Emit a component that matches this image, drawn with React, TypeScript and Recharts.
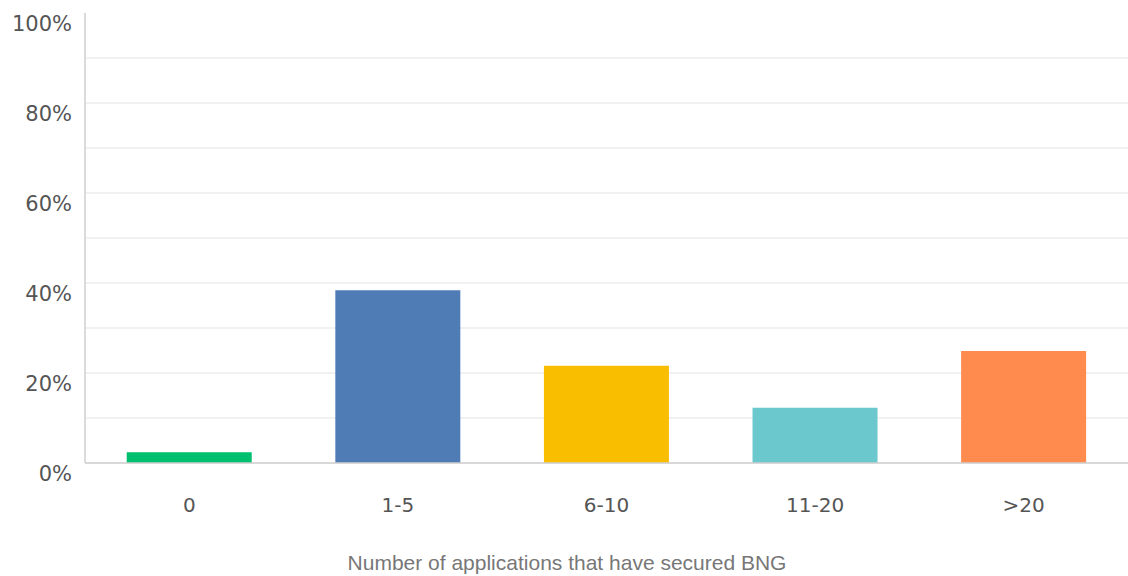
import React from "react";
import { BarChart, Bar, XAxis, YAxis, CartesianGrid, Cell, Customized } from "recharts";

// Share of respondents by number of applications that have secured BNG
const categories = ["0", "1-5", "6-10", "11-20", ">20"];
const shares = [2.4, 38.4, 21.6, 12.3, 24.9];
const barColors = ["#00BF6F", "#507CB6", "#F9BE00", "#6BC8CD", "#FF8B4F"];
const yTicks = [0, 10, 20, 30, 40, 50, 60, 70, 80, 90, 100];
const yLabelled = [0, 20, 40, 60, 80, 100];
const axisTitle = "Number of applications that have secured BNG";

const data = categories.map((c, i) => ({ category: c, share: shares[i] }));

const CHART_W = 1128;
const CHART_H = 576;
const PLOT_TOP = 13;
const tickFont = "'DejaVu Sans', Verdana, sans-serif";

const YTick = (props: any) => {
  const { x, y, payload } = props;
  if (!yLabelled.includes(payload.value)) return null;
  return (
    <text
      x={x}
      y={y + 11}
      textAnchor="end"
      dominantBaseline="central"
      fill="#555"
      fontSize={21}
      fontFamily={tickFont}
    >
      {payload.value + "%"}
    </text>
  );
};

const XTick = (props: any) => {
  const { x, y, payload } = props;
  return (
    <text
      x={x}
      y={y + 42}
      textAnchor="middle"
      dominantBaseline="central"
      fill="#555"
      fontSize={20}
      fontFamily={tickFont}
    >
      {payload.value}
    </text>
  );
};

// Horizontal grid lines, leaving out the one along the top of the plot
const GridLine = (props: any) => {
  const { x1, x2, y1, y2 } = props;
  if (y1 < PLOT_TOP + 1) return <g />;
  return <line x1={x1} x2={x2} y1={y1} y2={y2} stroke="#ececec" strokeWidth={1.5} />;
};

const AxisTitle = () => (
  <text
    x={CHART_W / 2 + 3}
    y={562}
    textAnchor="middle"
    dominantBaseline="central"
    fill="#777"
    fontSize={21}
    fontFamily="'Liberation Sans', Arial, sans-serif"
  >
    {axisTitle}
  </text>
);

export default function App() {
  return (
    <div style={{ position: "absolute", left: 0, top: 0, background: "#fff" }}>
      <BarChart
        width={CHART_W}
        height={CHART_H}
        data={data}
        margin={{ top: PLOT_TOP, right: 0, bottom: 0, left: 0 }}
        barCategoryGap="20%"
      >
        <CartesianGrid horizontal={GridLine} vertical={false} />
        <XAxis
          dataKey="category"
          height={113}
          tickLine={false}
          tickSize={0}
          tickMargin={0}
          axisLine={{ stroke: "#cfcfcf", strokeWidth: 1.5 }}
          tick={<XTick />}
          interval={0}
        />
        <YAxis
          width={85}
          domain={[0, 100]}
          ticks={yTicks}
          interval={0}
          tickLine={false}
          tickSize={0}
          tickMargin={13}
          axisLine={{ stroke: "#cfcfcf", strokeWidth: 1.5 }}
          tick={<YTick />}
        />
        <Bar dataKey="share" isAnimationActive={false}>
          {data.map((d, i) => (
            <Cell key={d.category} fill={barColors[i]} />
          ))}
        </Bar>
        <Customized component={AxisTitle} />
      </BarChart>
    </div>
  );
}
